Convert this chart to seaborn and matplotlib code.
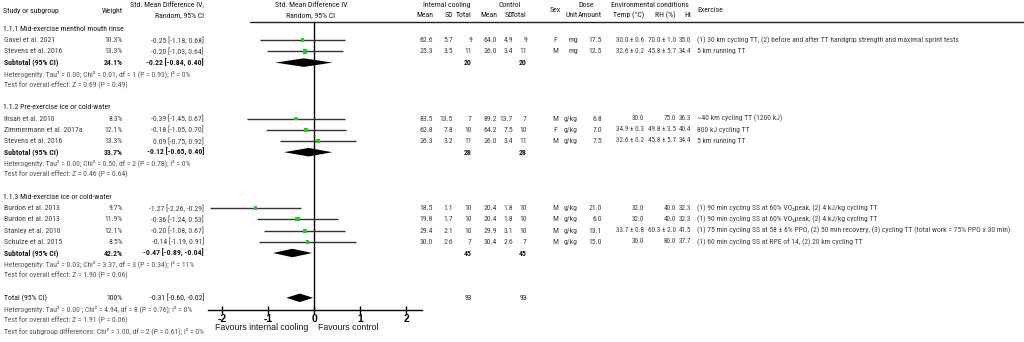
import matplotlib
matplotlib.use("Agg")
import matplotlib.pyplot as plt
import seaborn as sns
import pandas as pd
from matplotlib import font_manager

# ---- data ----
groups = ["1.1.1 Mid-exercise menthol mouth rinse",
          "1.1.2 Pre-exercise ice or cold-water",
          "1.1.3 Mid-exercise ice or cold-water"]
group_of = [0, 0, 1, 1, 1, 2, 2, 2, 2]
studies = ["Gavel et al. 2021", "Stevens et al. 2016",
           "Ihsan et al. 2010", "Zimmermann et al. 2017a", "Stevens et al. 2016",
           "Burdon et al. 2013", "Burdon et al. 2013", "Stanley et al. 2010", "Schulze et al. 2015"]
weights = [10.3, 13.3, 8.3, 12.1, 13.3, 9.7, 11.9, 12.1, 8.5]
smd = [-0.25, -0.20, -0.39, -0.18, 0.09, -1.27, -0.36, -0.20, -0.14]
ci_lo = [-1.18, -1.03, -1.45, -1.05, -0.75, -2.26, -1.24, -1.08, -1.19]
ci_hi = [0.68, 0.64, 0.67, 0.70, 0.92, -0.29, 0.53, 0.67, 0.91]
int_mean = [62.6, 25.3, 83.5, 62.8, 26.3, 18.5, 19.8, 29.4, 30.0]
int_sd = [5.7, 3.5, 13.5, 7.8, 3.2, 1.1, 1.7, 2.1, 2.6]
int_n = [9, 11, 7, 10, 11, 10, 10, 10, 7]
ctl_mean = [64.0, 26.0, 89.2, 64.2, 26.0, 20.4, 20.4, 29.9, 30.4]
ctl_sd = [4.9, 3.4, 13.7, 7.5, 3.4, 1.8, 1.8, 3.1, 2.6]
ctl_n = [9, 11, 7, 10, 11, 10, 10, 10, 7]
sex = ["F", "M", "M", "F", "M", "M", "M", "M", "M"]
dose_unit = ["mg", "mg", "g/kg", "g/kg", "g/kg", "g/kg", "g/kg", "g/kg", "g/kg"]
dose_amount = [17.5, 12.5, 6.8, 7.0, 7.5, 21.0, 6.0, 13.1, 15.0]
temp = ["30.0 ± 0.6", "32.6 ± 0.2", "30.0", "34.9 ± 0.3", "32.6 ± 0.2",
        "32.0", "32.0", "33.7 ± 0.8", "30.0"]
rh = ["70.0 ± 1.0", "45.8 ± 5.7", "75.0", "49.8 ± 3.5", "45.8 ± 5.7",
      "40.0", "40.0", "60.3 ± 2.0", "80.0"]
heat_index = [35.0, 34.4, 36.3, 40.4, 34.4, 32.3, 32.3, 41.5, 37.7]
exercise = ["(1) 30 km cycling TT, (2) before and after TT handgrip strength and maximal sprint tests",
            "5 km running TT",
            "~40 km cycling TT (1200 kJ)",
            "800 kJ cycling TT",
            "5 km running TT",
            "(1) 90 min cycling SS at 60% VO₂peak, (2) 4 kJ/kg cycling TT",
            "(1) 90 min cycling SS at 60% VO₂peak, (2) 4 kJ/kg cycling TT",
            "(1) 75 min cycling SS at 58 ± 6% PPO, (2) 50 min recovery, (3) cycling TT (total work = 75% PPO x 30 min)",
            "(1) 60 min cycling SS at RPE of 14, (2) 20 km cycling TT"]

sub_weight = [24.1, 33.7, 42.2]
sub_smd = [-0.22, -0.12, -0.47]
sub_lo = [-0.84, -0.65, -0.89]
sub_hi = [0.40, 0.40, -0.04]
sub_int_n = [20, 28, 45]
sub_ctl_n = [20, 28, 45]
sub_het = ["Heterogenity: Tau² = 0.00; Chi² = 0.01, df = 1 (P = 0.93); I² = 0%",
           "Heterogenity: Tau² = 0.00; Chi² = 0.50, df = 2 (P = 0.78); I² = 0%",
           "Heterogenity: Tau² = 0.03; Chi² = 3.37, df = 3 (P = 0.34); I² = 11%"]
sub_test = ["Test for overall effect: Z = 0.69 (P = 0.49)",
            "Test for overall effect: Z = 0.46 (P = 0.64)",
            "Test for overall effect: Z = 1.90 (P = 0.06)"]

total_weight = 100
total_smd = -0.31
total_lo = -0.60
total_hi = -0.02
total_int_n = 93
total_ctl_n = 93
total_notes = ["Heterogenity: Tau² = 0.00 ; Chi² = 4.94, df = 8 (P = 0.76); I² = 0%",
               "Test for overall effect: Z = 1.91 (P = 0.06)",
               "Test for subgroup differences: Chi² = 1.00, df = 2 (P = 0.61); I² = 0%"]

# ---- row layout ----
group_rows, study_rows, sub_rows = [], [], []
r = 0
for g in range(len(groups)):
    group_rows.append(r); r += 1
    for i in range(len(studies)):
        if group_of[i] == g:
            study_rows.append(r); r += 1
    sub_rows.append(r); r += 1
    r += 3  # heterogeneity, test, blank
total_row = r

df = pd.DataFrame({"row": study_rows, "smd": smd, "lo": ci_lo, "hi": ci_hi, "weight": weights})

sns.set_theme(style="white")
installed = {f.name for f in font_manager.fontManager.ttflist}
narrow = next(f for f in ["Liberation Sans Narrow", "Arial Narrow", "Roboto Condensed",
                          "Archivo Narrow", "DejaVu Sans"] if f in installed)
plt.rcParams["font.family"] = [narrow, "DejaVu Sans"]
WIDE = ["Liberation Sans", "DejaVu Sans"]

Y0, DY = 29, 11.2  # pixel y of first row, row step
def py(p):
    return (p - Y0) / DY

fig = plt.figure(figsize=(10.24, 3.42), dpi=100)
tax = fig.add_axes([0, 0, 1, 1])
tax.set_xlim(0, 1024)
tax.set_ylim(py(342), py(0))
tax.axis("off")

FS = 5.6
FS_ENV = 5.1
TXT = "#404040"
GRY = "#555555"
DARK = "#1a1a1a"

def t(x, y, s, ha="left", bold=False, color=TXT, fs=FS):
    tax.text(x, y, s, ha=ha, va="center", fontsize=fs, color=color,
             fontweight="bold" if bold else "normal")

# column anchors (pixels)
X_W, X_CI = 123, 204
X_IM, X_IS, X_IN = 433, 453, 472
X_CM, X_CS, X_CN = 497, 513, 527
X_SEX, X_UNIT, X_AMT = 555, 578, 602
X_T, X_RH, X_HI, X_EX = 644, 676, 691, 697

# headers
h1, h2, hm = py(5), py(15), py(10.5)
t(3, hm, "Study or subgroup", color=DARK)
t(X_W, hm, "Weight", ha="right", color=DARK)
t(X_CI, h1, "Std. Mean Difference IV,", ha="right", color=DARK)
t(X_CI, h2, "Random, 95% CI", ha="right", color=DARK)
t(311, h1, "Std. Mean Difference IV", ha="center", color=DARK)
t(311, h2, "Random, 95% CI", ha="center", color=DARK)
t(447, h1, "Internal cooling", ha="center", color=DARK)
t(510, h1, "Control", ha="center", color=DARK)
for xm, xs, xn in ((X_IM, X_IS, X_IN), (X_CM, X_CS, X_CN)):
    t(xm, h2, "Mean", ha="right", color=DARK)
    t(xs, h2, "SD", ha="right", color=DARK)
    t(xn, h2, "Total", ha="right", color=DARK)
t(X_SEX, hm, "Sex", ha="center", color=DARK)
t(586, h1, "Dose", ha="center", color=DARK)
t(X_UNIT, h2, "Unit", ha="right", color=DARK)
t(X_AMT, h2, "Amount", ha="right", color=DARK)
t(650, h1, "Environmental conditions", ha="center", color=DARK)
t(X_T, h2, "Temp (°C)", ha="right", color=DARK)
t(X_RH, h2, "RH (%)", ha="right", color=DARK)
t(X_HI, h2, "HI", ha="right", color=DARK)
t(X_EX, hm, "Exercise", color=DARK)
tax.plot([250, 1024], [py(22), py(22)], color="#222222", lw=1.0)

for g, rr in enumerate(group_rows):
    t(3, rr, groups[g], color=DARK)

for i, rr in enumerate(study_rows):
    t(4, rr, studies[i])
    t(X_W, rr, f"{weights[i]:.1f}%", ha="right")
    t(X_CI, rr, f"{smd[i]:.2f} [{ci_lo[i]:.2f}, {ci_hi[i]:.2f}]", ha="right")
    t(X_IM, rr, f"{int_mean[i]:.1f}", ha="right")
    t(X_IS, rr, f"{int_sd[i]:.1f}", ha="right")
    t(X_IN, rr, f"{int_n[i]}", ha="right")
    t(X_CM, rr, f"{ctl_mean[i]:.1f}", ha="right")
    t(X_CS, rr, f"{ctl_sd[i]:.1f}", ha="right")
    t(X_CN, rr, f"{ctl_n[i]}", ha="right")
    t(X_SEX, rr, sex[i], ha="center")
    t(X_UNIT, rr, dose_unit[i], ha="right")
    t(X_AMT, rr, f"{dose_amount[i]:.1f}", ha="right")
    t(X_T, rr, temp[i], ha="right", fs=FS_ENV)
    t(X_RH, rr, rh[i], ha="right", fs=FS_ENV)
    t(X_HI, rr, f"{heat_index[i]:.1f}", ha="right", fs=FS_ENV)
    t(X_EX, rr, exercise[i], fs=5.5)

for g, rr in enumerate(sub_rows):
    t(4, rr, "Subtotal (95% CI)", bold=True, color=DARK)
    t(X_W, rr, f"{sub_weight[g]:.1f}%", ha="right", bold=True, color=DARK)
    t(X_CI, rr, f"{sub_smd[g]:.2f} [{sub_lo[g]:.2f}, {sub_hi[g]:.2f}]", ha="right", bold=True, color=DARK)
    t(X_IN, rr, f"{sub_int_n[g]}", ha="right", bold=True, color=DARK)
    t(X_CN, rr, f"{sub_ctl_n[g]}", ha="right", bold=True, color=DARK)
    t(4, rr + 1, sub_het[g], color=GRY, fs=5.5)
    t(4, rr + 2, sub_test[g], color=GRY, fs=5.5)

t(4, total_row, "Total (95% CI)", color=DARK)
t(X_W, total_row, f"{total_weight}%", ha="right", color=DARK)
t(X_CI, total_row, f"{total_smd:.2f} [{total_lo:.2f}, {total_hi:.2f}]", ha="right", color=DARK)
t(X_IN, total_row, f"{total_int_n}", ha="right", color=DARK)
t(X_CN, total_row, f"{total_ctl_n}", ha="right", color=DARK)
for k, s in enumerate(total_notes):
    t(4, total_row + 1 + k, s, color=GRY, fs=5.5)

# ---- forest panel ----
PX0, PXW, ZERO, UNIT = 200, 230, 314, 46
fax = fig.add_axes([PX0 / 1024, 0, PXW / 1024, 1])
fax.set_xlim((PX0 - ZERO) / UNIT, (PX0 + PXW - ZERO) / UNIT)
fax.set_ylim(py(342), py(0))
fax.patch.set_alpha(0)

fax.hlines(df["row"], df["lo"], df["hi"], color="#333333", lw=1.0, zorder=2)
sns.scatterplot(data=df, x="smd", y="row", size="weight", sizes=(6, 10), marker="s",
                color="#22cc22", edgecolor="none", legend=False, zorder=3, ax=fax)

def diamond(rr, m, lo, hi, h=0.38):
    fax.fill([lo, m, hi, m], [rr, rr - h, rr, rr + h], color="black", lw=0, zorder=3)

for g, rr in enumerate(sub_rows):
    diamond(rr, sub_smd[g], sub_lo[g], sub_hi[g])
diamond(total_row, total_smd, total_lo, total_hi)

axis_y = py(310)
fax.plot([0, 0], [py(22), axis_y], color="black", lw=1.0, zorder=1)
for s in ("top", "right", "left"):
    fax.spines[s].set_visible(False)
fax.spines["bottom"].set_position(("data", axis_y))
fax.spines["bottom"].set_bounds(-2.3, 2.35)
fax.spines["bottom"].set_color("black")
fax.spines["bottom"].set_linewidth(1.0)
fax.set_yticks([])
fax.set_xticks([-2, -1, 0, 1, 2])
fax.set_xticklabels(["-2", "-1", "0", "1", "2"])
fax.tick_params(axis="x", direction="inout", length=6, width=1, pad=0, labelsize=7.5,
                colors="black", bottom=True)
for lab in fax.get_xticklabels():
    lab.set_fontweight("bold")
    lab.set_family(WIDE)
fax.set_xlabel("")
fax.set_ylabel("")
fax.text(-0.13, py(328), "Favours internal cooling", ha="right", va="center", fontsize=6.3,
         color=DARK, family=WIDE)
fax.text(0.09, py(328), "Favours control", ha="left", va="center", fontsize=6.3,
         color=DARK, family=WIDE)

fig.savefig("out.png", dpi=100)
